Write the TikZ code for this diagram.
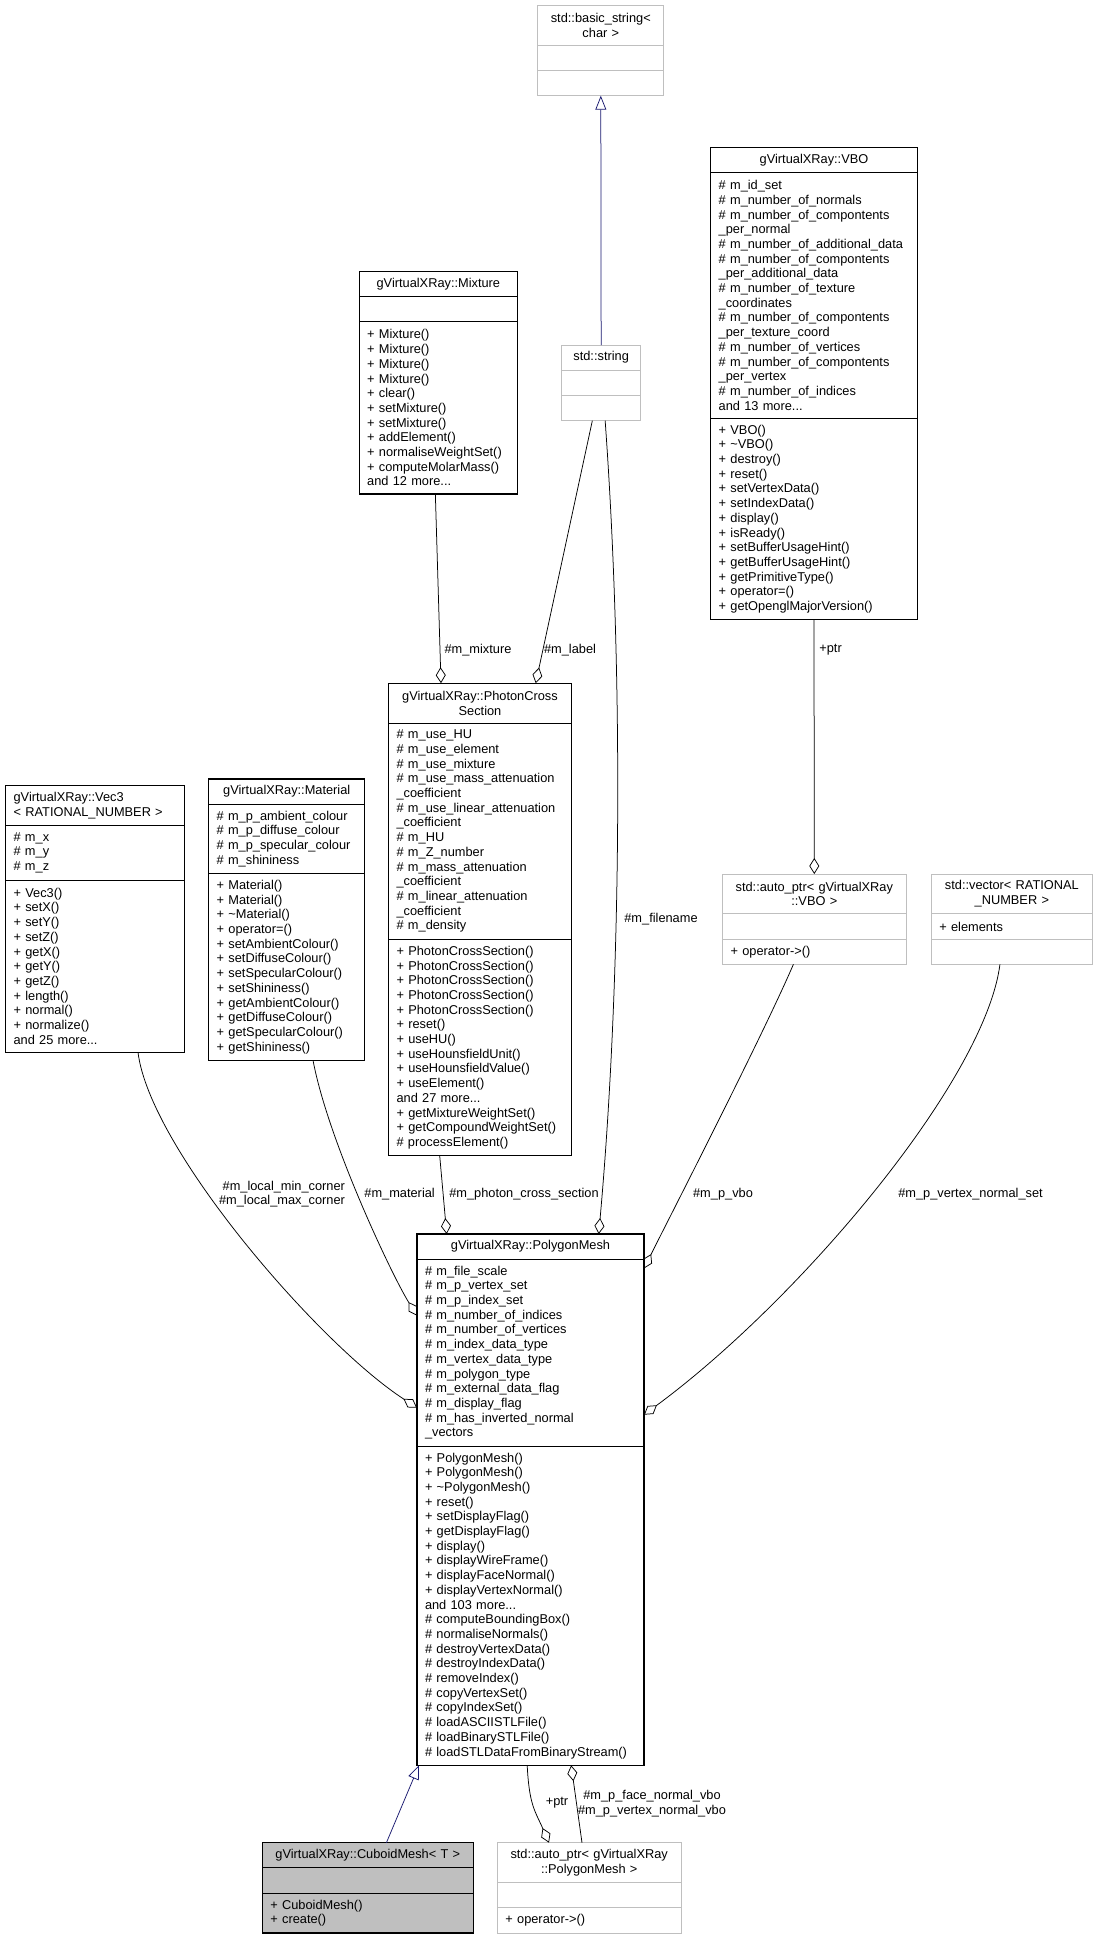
\documentclass[tikz,border=0pt]{standalone}
\usepackage{fontspec}
\setmainfont{Liberation Sans}
\usetikzlibrary{positioning,arrows.meta}

\definecolor{boxgrey}{HTML}{BFBFBF}
\definecolor{inhblue}{HTML}{191970}

\begin{document}
\begin{tikzpicture}[x=1pt,y=-1pt,
    every node/.style={font=\fontsize{12.8}{14.7}\selectfont},
    cls/.style={draw, line width=1.1pt, outer sep=0pt, inner xsep=8pt,
      inner ysep=3pt, text width=#1-16pt, align=left},
    grey/.style={draw=boxgrey, line width=1pt},
    hdr/.style={anchor=north west, align=center},
    lines/.style={minimum height=#1*14.7pt+10.5pt},
    lbl/.style={inner sep=0pt, align=center},
    agg/.style={draw, line width=0.75pt, -{Diamond[open,length=16pt,width=10pt]}},
    inh/.style={draw=inhblue, line width=0.75pt, -{Triangle[open,length=14pt,width=11pt]}}]

      \path[use as bounding box, fill=white] (0,0) rectangle (1098,1940);

      \begin{scope}[every node/.append style={cls=126pt, grey}]
        \node[hdr, lines=2] (basicstr) at (537.8,5.4) {std::basic\_string<\\char >};
        \node[lines=1, below=0pt of basicstr] (basicstr-a) {};
        \node[lines=1, below=0pt of basicstr-a] (basicstr-m) {};
      \end{scope}

      \begin{scope}[every node/.append style={cls=79.1pt, grey}]
        \node[hdr, lines=1] (stdstr) at (561.6,345) {std::string};
        \node[lines=1, below=0pt of stdstr] (stdstr-a) {};
        \node[lines=1, below=0pt of stdstr-a] (stdstr-m) {};
      \end{scope}

      \begin{scope}[every node/.append style={cls=206.6pt}]
        \node[hdr, lines=1] (vbo) at (710.7,147.3) {gVirtualXRay::VBO};
        \node[lines=16, below=0pt of vbo] (vbo-a) {\# m\_id\_set\\\# m\_number\_of\_normals\\\# m\_number\_of\_compontents\\\_per\_normal\\\# m\_number\_of\_additional\_data\\\# m\_number\_of\_compontents\\\_per\_additional\_data\\\# m\_number\_of\_texture\\\_coordinates\\\# m\_number\_of\_compontents\\\_per\_texture\_coord\\\# m\_number\_of\_vertices\\\# m\_number\_of\_compontents\\\_per\_vertex\\\# m\_number\_of\_indices\\and 13 more...};
        \node[lines=13, below=0pt of vbo-a] (vbo-m) {+ VBO()\\+ \textasciitilde VBO()\\+ destroy()\\+ reset()\\+ setVertexData()\\+ setIndexData()\\+ display()\\+ isReady()\\+ setBufferUsageHint()\\+ getBufferUsageHint()\\+ getPrimitiveType()\\+ operator=()\\+ getOpenglMajorVersion()};
      \end{scope}

      \begin{scope}[every node/.append style={cls=158.3pt}]
        \node[hdr, lines=1] (mixture) at (359.2,271.4) {gVirtualXRay::Mixture};
        \node[lines=1, below=0pt of mixture] (mixture-a) {};
        \node[lines=11, below=0pt of mixture-a] (mixture-m) {+ Mixture()\\+ Mixture()\\+ Mixture()\\+ Mixture()\\+ clear()\\+ setMixture()\\+ setMixture()\\+ addElement()\\+ normaliseWeightSet()\\+ computeMolarMass()\\and 12 more...};
      \end{scope}

      \begin{scope}[every node/.append style={cls=182.8pt}]
        \node[hdr, lines=2] (photon) at (388.6,683.2) {gVirtualXRay::PhotonCross\\Section};
        \node[lines=14, below=0pt of photon] (photon-a) {\# m\_use\_HU\\\# m\_use\_element\\\# m\_use\_mixture\\\# m\_use\_mass\_attenuation\\\_coefficient\\\# m\_use\_linear\_attenuation\\\_coefficient\\\# m\_HU\\\# m\_Z\_number\\\# m\_mass\_attenuation\\\_coefficient\\\# m\_linear\_attenuation\\\_coefficient\\\# m\_density};
        \node[lines=14, below=0pt of photon-a] (photon-m) {+ PhotonCrossSection()\\+ PhotonCrossSection()\\+ PhotonCrossSection()\\+ PhotonCrossSection()\\+ PhotonCrossSection()\\+ reset()\\+ useHU()\\+ useHounsfieldUnit()\\+ useHounsfieldValue()\\+ useElement()\\and 27 more...\\+ getMixtureWeightSet()\\+ getCompoundWeightSet()\\\# processElement()};
      \end{scope}

      \begin{scope}[every node/.append style={cls=178.6pt}]
        \node[hdr, align=left, lines=2] (vec3) at (5.6,785.6) {gVirtualXRay::Vec3\\< RATIONAL\_NUMBER >};
        \node[lines=3, below=0pt of vec3] (vec3-a) {\# m\_x\\\# m\_y\\\# m\_z};
        \node[lines=11, below=0pt of vec3-a] (vec3-m) {+ Vec3()\\+ setX()\\+ setY()\\+ setZ()\\+ getX()\\+ getY()\\+ getZ()\\+ length()\\+ normal()\\+ normalize()\\and 25 more...};
      \end{scope}

      \begin{scope}[every node/.append style={cls=156.1pt}]
        \node[hdr, lines=1] (material) at (208.7,779) {gVirtualXRay::Material};
        \node[lines=4, below=0pt of material] (material-a) {\# m\_p\_ambient\_colour\\\# m\_p\_diffuse\_colour\\\# m\_p\_specular\_colour\\\# m\_shininess};
        \node[lines=12, below=0pt of material-a] (material-m) {+ Material()\\+ Material()\\+ \textasciitilde Material()\\+ operator=()\\+ setAmbientColour()\\+ setDiffuseColour()\\+ setSpecularColour()\\+ setShininess()\\+ getAmbientColour()\\+ getDiffuseColour()\\+ getSpecularColour()\\+ getShininess()};
      \end{scope}

      \begin{scope}[every node/.append style={cls=183.4pt, grey}]
        \node[hdr, lines=2] (autovbo) at (722.6,874) {std::auto\_ptr< gVirtualXRay\\::VBO >};
        \node[lines=1, below=0pt of autovbo] (autovbo-a) {};
        \node[lines=1, below=0pt of autovbo-a] (autovbo-m) {+ operator->()};
      \end{scope}

      \begin{scope}[every node/.append style={cls=161.1pt, grey}]
        \node[hdr, lines=2] (vector) at (931.3,874) {std::vector< RATIONAL\\\_NUMBER >};
        \node[lines=1, below=0pt of vector] (vector-a) {+ elements};
        \node[lines=1, below=0pt of vector-a] (vector-m) {};
      \end{scope}

      \begin{scope}[every node/.append style={cls=227pt}]
        \node[hdr, lines=1] (pm) at (417,1234) {gVirtualXRay::PolygonMesh};
        \node[lines=12, below=0pt of pm] (pm-a) {\# m\_file\_scale\\\# m\_p\_vertex\_set\\\# m\_p\_index\_set\\\# m\_number\_of\_indices\\\# m\_number\_of\_vertices\\\# m\_index\_data\_type\\\# m\_vertex\_data\_type\\\# m\_polygon\_type\\\# m\_external\_data\_flag\\\# m\_display\_flag\\\# m\_has\_inverted\_normal\\\_vectors};
        \node[lines=21, below=0pt of pm-a] (pm-m) {+ PolygonMesh()\\+ PolygonMesh()\\+ \textasciitilde PolygonMesh()\\+ reset()\\+ setDisplayFlag()\\+ getDisplayFlag()\\+ display()\\+ displayWireFrame()\\+ displayFaceNormal()\\+ displayVertexNormal()\\and 103 more...\\\# computeBoundingBox()\\\# normaliseNormals()\\\# destroyVertexData()\\\# destroyIndexData()\\\# removeIndex()\\\# copyVertexSet()\\\# copyIndexSet()\\\# loadASCIISTLFile()\\\# loadBinarySTLFile()\\\# loadSTLDataFromBinaryStream()};
      \end{scope}

      \begin{scope}[every node/.append style={cls=210.8pt, fill=boxgrey}]
        \node[hdr, lines=1] (cuboid) at (262.4,1842.7) {gVirtualXRay::CuboidMesh<~T~>};
        \node[lines=1, below=0pt of cuboid] (cuboid-a) {};
        \node[lines=2, below=0pt of cuboid-a] (cuboid-m) {+ CuboidMesh()\\+ create()};
      \end{scope}

      \begin{scope}[every node/.append style={cls=183.6pt, grey}]
        \node[hdr, lines=2] (autopm) at (497.4,1842.7) {std::auto\_ptr< gVirtualXRay\\::PolygonMesh >};
        \node[lines=1, below=0pt of autopm] (autopm-a) {};
        \node[lines=1, below=0pt of autopm-a] (autopm-m) {+ operator->()};
      \end{scope}

      % inheritance
      \path[inh] (stdstr.north) -- (basicstr-m.south);
      \path[inh] ([xshift=18.6pt]cuboid.north) -- ([xshift=2pt]pm-m.south west);

      % aggregation
      \path[agg] ([xshift=-3pt]mixture-m.south) -- ([xshift=52.4pt]photon.north west);
      \path[agg] ([xshift=-8.8pt]stdstr-m.south) -- ([xshift=147.1pt]photon.north west);
      \path[agg] ([xshift=4pt]stdstr-m.south) .. controls +(20,279) and +(21,-234) .. ([xshift=181.7pt]pm.north west);
      \path[agg] (vbo-m.south) -- (autovbo.north);
      \path[agg] ([xshift=-40.3pt]photon-m.south) -- ([xshift=29.7pt]pm.north west);
      \path[agg] ([xshift=43.1pt]vec3-m.south) .. controls +(12,97) and +(-97,-62.6) .. ([yshift=-173.6pt]pm.north west);
      \path[agg] ([xshift=26.3pt]material-m.south) .. controls +(15,80) and +(-25,-40) .. ([yshift=-81.6pt]pm.north west);
      \path[agg] ([xshift=-20.9pt]autovbo-m.south) .. controls +(-30,70) and +(25,-50) .. ([yshift=-34.4pt]pm.north east);
      \path[agg] ([xshift=-11.9pt]vector-m.south) .. controls +(-15,116) and +(156,-115) .. ([yshift=-180.7pt]pm.north east);
      \path[agg] ([xshift=-3.3pt]pm-m.south) .. controls +(2,40) and +(-14,-32) .. ([xshift=51.6pt]autopm.north west);
      \path[agg] ([xshift=84.6pt]autopm.north west) -- ([xshift=154.2pt]pm-m.south west);

      \node[lbl] (l-mixture) at (478,650) {\#m\_mixture};
      \node[lbl] (l-label) at (570,650) {\#m\_label};
      \node[lbl] (l-ptr) at (830.6,650) {+ptr};
      \node[lbl] (l-filename) at (661,918.7) {\#m\_filename};
      \node[lbl, anchor=east, align=right] (l-corner) at (345.2,1194) {\#m\_local\_min\_corner\\\#m\_local\_max\_corner};
      \node[lbl] (l-material) at (399.6,1194) {\#m\_material};
      \node[lbl] (l-photon) at (524,1194) {\#m\_photon\_cross\_section};
      \node[lbl] (l-vbo) at (723,1194) {\#m\_p\_vbo};
      \node[lbl] (l-normalset) at (970.5,1194) {\#m\_p\_vertex\_normal\_set};
      \node[lbl] (l-meshptr) at (557,1802.7) {+ptr};
      \node[lbl] (l-normalvbo) at (652,1803.7) {\#m\_p\_face\_normal\_vbo\\\#m\_p\_vertex\_normal\_vbo};

    \end{tikzpicture}
\end{document}
